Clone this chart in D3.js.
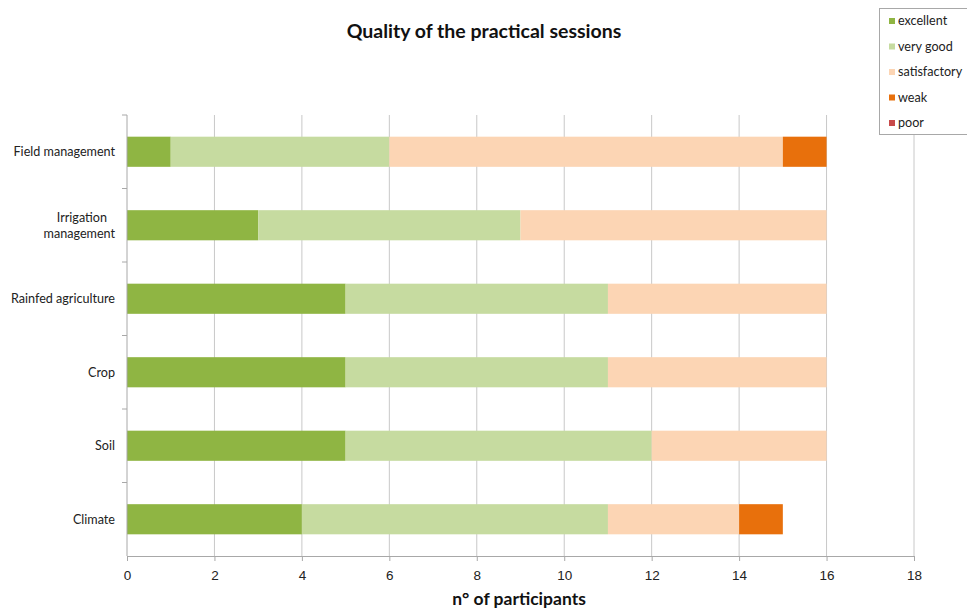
<!DOCTYPE html>
<html>
<head>
<meta charset="utf-8">
<script src="https://cdn.jsdelivr.net/npm/d3@7"></script>
<style>
  html, body { margin: 0; padding: 0; background: #fff; }
  svg { display: block; font-family: Lato, "Open Sans", sans-serif; }
</style>
</head>
<body>
<svg id="chart" width="967" height="610"></svg>
<script>
// Sessions, top to bottom
const categories = ["Field management", "Irrigation management", "Rainfed agriculture", "Crop", "Soil", "Climate"];
const ratings = ["excellent", "very good", "satisfactory", "weak", "poor"];
// Number of participants per rating, in category order
const excellent    = [1, 3, 5, 5, 5, 4];
const veryGood     = [5, 6, 6, 6, 7, 7];
const satisfactory = [9, 7, 5, 5, 4, 3];
const weak         = [1, 0, 0, 0, 0, 1];
const poor         = [0, 0, 0, 0, 0, 0];
const xTicks = [0, 2, 4, 6, 8, 10, 12, 14, 16, 18];

const colors = ["#8fb543", "#c6dba0", "#fcd5b4", "#e8700c", "#c84a4a"];

const svg = d3.select("#chart");
const m = { left: 127, right: 914, top: 115, bottom: 556 };

const rows = categories.map((c, i) => ({
  cat: c,
  "excellent": excellent[i],
  "very good": veryGood[i],
  "satisfactory": satisfactory[i],
  "weak": weak[i],
  "poor": poor[i]
}));
const stacked = d3.stack().keys(ratings)(rows);

const x = d3.scaleLinear().domain([0, 18]).range([m.left, m.right]);
const y = d3.scaleBand().domain(categories).range([m.top, m.bottom]).paddingInner(0.59).paddingOuter(0.295);
const band = d3.scaleBand().domain(categories).range([m.top, m.bottom]);

// Vertical gridlines
svg.append("g").selectAll("line").data(xTicks.slice(1)).join("line")
  .attr("x1", d => x(d)).attr("x2", d => x(d))
  .attr("y1", m.top).attr("y2", m.bottom)
  .attr("stroke", "#c8c8c8").attr("stroke-width", 1);

// Bars
svg.append("g").selectAll("g").data(stacked).join("g")
  .attr("fill", (d, i) => colors[i])
  .selectAll("rect").data(d => d.filter(p => p[1] > p[0]).map(p => ({ p, cat: p.data.cat }))).join("rect")
  .attr("x", d => x(d.p[0]))
  .attr("width", d => x(d.p[1]) - x(d.p[0]))
  .attr("y", d => y(d.cat))
  .attr("height", y.bandwidth());

// X axis
const xAxis = svg.append("g").attr("transform", `translate(0,${m.bottom})`)
  .call(d3.axisBottom(x).tickValues(xTicks).tickSize(5).tickPadding(9));
xAxis.select(".domain").attr("stroke", "#a8a8a8");
xAxis.selectAll(".tick line").attr("stroke", "#a8a8a8");
xAxis.selectAll("text").attr("font-size", 13.5).attr("fill", "#222");

// Y axis: ticks sit between categories
const yAxisG = svg.append("g");
yAxisG.append("line").attr("x1", m.left).attr("x2", m.left)
  .attr("y1", m.top).attr("y2", m.bottom).attr("stroke", "#a8a8a8");
yAxisG.selectAll("line.tk").data(categories).join("line").attr("class", "tk")
  .attr("x1", m.left - 5).attr("x2", m.left)
  .attr("y1", d => band(d)).attr("y2", d => band(d))
  .attr("stroke", "#a8a8a8");

// Category labels
const labelLines = {
  "Irrigation management": ["Irrigation", "management"]
};
yAxisG.selectAll("text").data(categories).join("text")
  .attr("text-anchor", "end")
  .attr("font-size", 12.6).attr("fill", "#222")
  .each(function(d) {
    const lines = labelLines[d] || [d];
    const cy = band(d) + band.bandwidth() / 2;
    const t = d3.select(this);
    if (lines.length === 1) {
      t.attr("x", m.left - 12).attr("y", cy).attr("dy", "0.35em").text(d);
    } else {
      t.attr("y", cy);
      lines.forEach((ln, k) => {
        t.append("tspan").attr("x", m.left - 12 - (k === 0 ? 8 : 0))
          .attr("dy", k === 0 ? "-0.25em" : "1.25em").text(ln);
      });
    }
  });

// Title
svg.append("text").attr("x", 484).attr("y", 38).attr("text-anchor", "middle")
  .attr("font-size", 19.5).attr("font-weight", "bold").attr("fill", "#111")
  .text("Quality of the practical sessions");

// Axis title
svg.append("text").attr("x", 519).attr("y", 605).attr("text-anchor", "middle")
  .attr("font-size", 17.5).attr("font-weight", "bold").attr("fill", "#111")
  .text("n° of participants");

// Legend
const lg = svg.append("g");
lg.append("rect").attr("x", 879.5).attr("y", 8.5).attr("width", 95).attr("height", 126)
  .attr("fill", "#fff").attr("stroke", "#a8a8a8");
const li = lg.selectAll("g").data(ratings).join("g")
  .attr("transform", (d, i) => `translate(889,${21 + i * 25.5})`);
li.append("rect").attr("x", 0).attr("y", -3).attr("width", 6).attr("height", 6)
  .attr("fill", (d, i) => colors[i]);
li.append("text").attr("x", 9).attr("y", 0).attr("dy", "0.35em")
  .attr("font-size", 12.6).attr("fill", "#222").text(d => d);
</script>
</body>
</html>
